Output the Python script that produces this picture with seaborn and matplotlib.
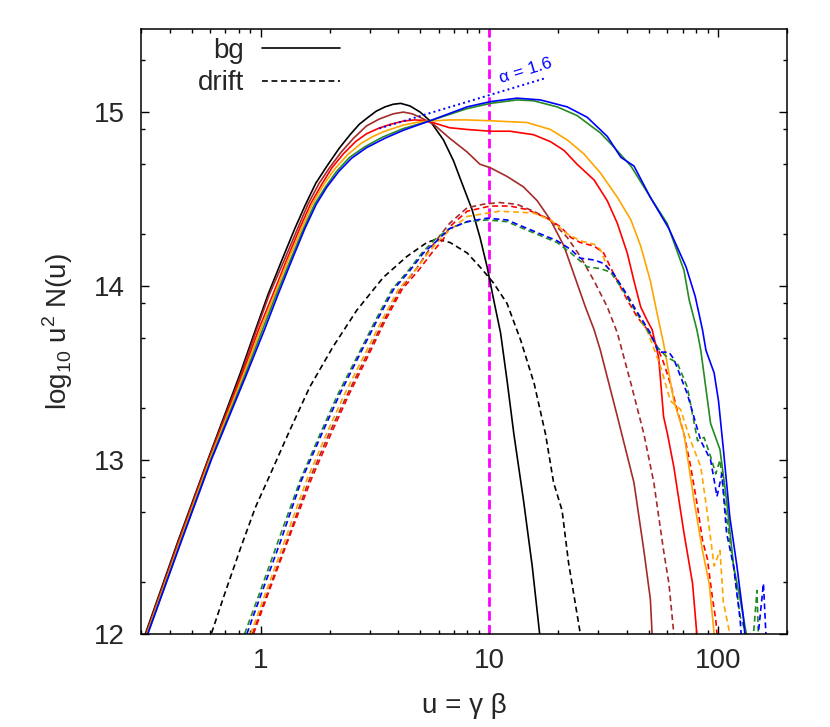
import matplotlib
matplotlib.use("Agg")
import matplotlib.pyplot as plt
from matplotlib.lines import Line2D
from matplotlib.ticker import FixedLocator, LogLocator, NullFormatter
import numpy as np
import pandas as pd
import seaborn as sns

# spectra: (u, log10 u^2 N(u)) pairs, one list per run
BG_BLACK = [(0.30, 11.93), (0.313, 12.0), (0.434, 12.53), (0.587, 13.0), (0.81, 13.49),
            (0.95, 13.75), (1.076, 13.95), (1.23, 14.14), (1.41, 14.33), (1.56, 14.46),
            (1.74, 14.59), (1.95, 14.69), (2.2, 14.79), (2.46, 14.87), (2.7, 14.93),
            (2.95, 14.97), (3.2, 15.005), (3.5, 15.03), (3.8, 15.045), (4.1, 15.05),
            (4.5, 15.035), (4.98, 15.0), (5.5, 14.95), (6.3, 14.84), (6.97, 14.72),
            (7.7, 14.57), (8.4, 14.44), (9.1, 14.28), (9.78, 14.11), (10.45, 13.92),
            (11.2, 13.73), (12.0, 13.44), (12.8, 13.15), (14.1, 12.77), (15.4, 12.39),
            (16.6, 12.0), (17.2, 11.85)]
BG_BROWN = [(0.30, 11.92), (0.315, 12.0), (0.437, 12.53), (0.590, 13.0), (0.82, 13.49),
            (0.96, 13.75), (1.09, 13.95), (1.26, 14.14), (1.45, 14.33), (1.61, 14.47),
            (1.8, 14.59), (2.0, 14.68), (2.25, 14.77), (2.55, 14.85), (2.9, 14.92),
            (3.3, 14.96), (3.8, 14.99), (4.21, 15.0), (4.6, 14.99), (4.98, 14.97),
            (5.7, 14.93), (6.7, 14.85), (8.0, 14.77), (9.1, 14.70), (10.1, 14.68),
            (11.95, 14.63), (14.1, 14.57), (16.2, 14.49), (18.5, 14.38), (21.2, 14.23),
            (23.4, 14.07), (26.3, 13.88), (28.7, 13.75), (30.6, 13.63), (36.3, 13.25),
            (42.9, 12.87), (47.4, 12.48), (50.6, 12.2), (51.5, 12.0), (52.5, 11.9)]
BG_RED = [(0.30, 11.91), (0.317, 12.0), (0.44, 12.53), (0.594, 13.0), (0.83, 13.49),
          (0.98, 13.75), (1.13, 13.95), (1.29, 14.14), (1.48, 14.33), (1.65, 14.47),
          (1.84, 14.58), (2.05, 14.68), (2.3, 14.76), (2.6, 14.83), (2.9, 14.875),
          (3.27, 14.906), (3.7, 14.93), (4.2, 14.948), (4.7, 14.955), (5.2, 14.952),
          (5.5, 14.945), (6.7, 14.91), (8.0, 14.90), (10.1, 14.89), (12.3, 14.89),
          (15.6, 14.87), (18.5, 14.83), (21.2, 14.78), (24.2, 14.70), (28.7, 14.61),
          (32.8, 14.49), (36.3, 14.36), (40.1, 14.19), (42.9, 14.03), (45.9, 13.88),
          (49.1, 13.80), (51.5, 13.75), (55.0, 13.59), (57.8, 13.25), (60.1, 13.15),
          (64.1, 12.96), (71.0, 12.58), (77.4, 12.29), (80.8, 12.0), (82.0, 11.9)]
BG_ORANGE = [(0.30, 11.90), (0.318, 12.0), (0.443, 12.53), (0.598, 13.0), (0.84, 13.49),
             (1.0, 13.75), (1.15, 13.95), (1.31, 14.14), (1.51, 14.33), (1.68, 14.47),
             (1.88, 14.58), (2.1, 14.67), (2.4, 14.755), (2.75, 14.82), (3.1, 14.86),
             (3.44, 14.887), (4.2, 14.925), (5.0, 14.945), (6.7, 14.955), (8.0, 14.955),
             (10.1, 14.95), (14.6, 14.94), (18.5, 14.90), (21.9, 14.84), (25.9, 14.76),
             (30.6, 14.65), (36.3, 14.51), (41.6, 14.38), (45.9, 14.23), (50.6, 14.03),
             (54.2, 13.84), (57.8, 13.67), (64.1, 13.34), (71.0, 13.15), (78.5, 12.77),
             (85.5, 12.48), (91.5, 12.29), (96.2, 12.0), (98.0, 11.9)]
BG_GREEN = [(0.30, 11.89), (0.32, 12.0), (0.447, 12.53), (0.604, 13.0), (0.855, 13.49),
            (1.02, 13.75), (1.17, 13.95), (1.34, 14.14), (1.54, 14.33), (1.72, 14.47),
            (1.92, 14.57), (2.15, 14.66), (2.45, 14.74), (2.85, 14.80), (3.4, 14.855),
            (4.2, 14.905), (5.5, 14.95), (8.0, 15.02), (10.1, 15.05), (13.2, 15.07),
            (15.6, 15.065), (19.8, 15.03), (24.2, 14.98), (30.6, 14.88), (35.0, 14.80),
            (41.6, 14.69), (50.6, 14.51), (59.9, 14.36), (71.0, 14.09), (74.8, 13.92),
            (80.8, 13.75), (84.1, 13.63), (92.8, 13.21), (102, 13.06), (109, 12.77),
            (117, 12.39), (125, 12.2), (133, 12.0), (136, 11.9)]
BG_BLUE = [(0.30, 11.88), (0.321, 12.0), (0.449, 12.53), (0.608, 13.0), (0.866, 13.49),
           (1.04, 13.75), (1.19, 13.95), (1.36, 14.14), (1.56, 14.33), (1.75, 14.47),
           (1.95, 14.57), (2.2, 14.66), (2.5, 14.735), (2.9, 14.795), (3.5, 14.85),
           (4.2, 14.895), (5.5, 14.95), (8.0, 15.03), (10.1, 15.06), (13.2, 15.08),
           (16.7, 15.07), (21.9, 15.03), (26.8, 14.97), (32.8, 14.86), (37.6, 14.74),
           (42.9, 14.69), (50.6, 14.51), (61.0, 14.33), (72.5, 14.11), (79.5, 13.94),
           (85.5, 13.75), (88.6, 13.63), (96.2, 13.50), (100.5, 13.34), (105.6, 13.06),
           (112.7, 12.67), (121, 12.39), (129, 12.1), (131, 12.0), (133, 11.9)]

DRIFT_BLACK = [(0.58, 11.9), (0.608, 12.0), (0.70, 12.24), (0.82, 12.5), (0.95, 12.73),
               (1.095, 12.91), (1.34, 13.17), (1.64, 13.42), (2.07, 13.65), (2.63, 13.86),
               (3.44, 14.05), (4.36, 14.17), (5.33, 14.25), (5.9, 14.27), (6.74, 14.25),
               (8.0, 14.19), (9.1, 14.11), (10.4, 14.02), (11.95, 13.90), (13.0, 13.77),
               (13.7, 13.69), (15.7, 13.44), (17.6, 13.15), (19.1, 12.87), (20.8, 12.71),
               (22.2, 12.41), (25.0, 12.0), (25.5, 11.9)]
DRIFT_BROWN = [(0.89, 11.95), (0.92, 12.0), (1.06, 12.22), (1.30, 12.53), (1.63, 12.885),
               (1.99, 13.15), (2.4, 13.38), (2.93, 13.61), (3.45, 13.80), (4.08, 13.98),
               (4.8, 14.10), (5.4, 14.2), (6.0, 14.28), (6.7, 14.36), (8.0, 14.45),
               (9.4, 14.47), (11.1, 14.48), (13.2, 14.47), (15.6, 14.43), (18.5, 14.38),
               (21.9, 14.28), (25.0, 14.17), (28.7, 14.03), (32.8, 13.88), (36.3, 13.73),
               (41.6, 13.44), (47.4, 13.15), (52.4, 12.87), (57.8, 12.48), (61.0, 12.29),
               (64.1, 12.0), (65.0, 11.9)]
DRIFT_RED = [(0.90, 11.95), (0.93, 12.0), (1.07, 12.22), (1.31, 12.53), (1.66, 12.885),
             (2.03, 13.15), (2.44, 13.38), (2.98, 13.61), (3.5, 13.80), (4.15, 13.98),
             (4.9, 14.09), (5.6, 14.19), (6.3, 14.27), (6.7, 14.34), (8.0, 14.43),
             (10.1, 14.46), (12.3, 14.46), (14.6, 14.44), (17.9, 14.39), (20.5, 14.34),
             (22.7, 14.28), (25.0, 14.25), (28.7, 14.23), (31.6, 14.19), (35.0, 14.07),
             (40.1, 13.92), (44.4, 13.82), (49.1, 13.75), (54.2, 13.65), (57.8, 13.56),
             (61.9, 13.44), (66.2, 13.29), (71.0, 13.15), (76.0, 12.96), (81.4, 12.73),
             (85.5, 12.54), (89.9, 12.43), (94.5, 12.21), (97.8, 12.08), (99.0, 12.0),
             (100.0, 11.9)]
DRIFT_ORANGE = [(0.87, 11.95), (0.904, 12.0), (1.04, 12.22), (1.27, 12.53), (1.59, 12.885),
                (1.94, 13.15), (2.33, 13.38), (2.86, 13.61), (3.38, 13.80), (4.0, 13.98),
                (4.73, 14.09), (5.4, 14.19), (6.1, 14.27), (6.7, 14.32), (8.0, 14.40),
                (11.1, 14.43), (15.6, 14.42), (18.5, 14.38), (21.9, 14.30), (25.0, 14.26),
                (28.7, 14.24), (30.6, 14.21), (32.8, 14.11), (36.3, 14.03), (41.6, 13.92),
                (45.9, 13.80), (49.1, 13.74), (56.0, 13.54), (61.9, 13.34), (68.6, 13.29),
                (76.0, 13.11), (84.1, 12.96), (89.9, 12.69), (96.2, 12.39), (102, 12.48),
                (105.6, 12.18), (112.7, 12.0), (115, 11.9)]
DRIFT_GREEN = [(0.82, 11.95), (0.85, 12.0), (0.98, 12.22), (1.19, 12.53), (1.49, 12.885),
               (1.82, 13.15), (2.18, 13.38), (2.68, 13.61), (3.17, 13.80), (3.75, 13.98),
               (4.43, 14.09), (5.07, 14.19), (5.8, 14.27), (6.7, 14.33), (8.0, 14.37),
               (9.78, 14.38), (11.95, 14.37), (14.1, 14.33), (16.7, 14.29), (19.8, 14.25),
               (22.7, 14.19), (26.8, 14.11), (30.6, 14.10), (33.9, 14.08), (38.7, 13.97),
               (42.9, 13.87), (47.4, 13.78), (54.2, 13.65), (59.9, 13.59), (66.2, 13.56),
               (73.4, 13.42), (81.4, 13.11), (86.9, 13.13), (92.8, 13.02), (97.8, 12.92),
               (102, 13.0), (109, 12.67), (117, 12.39), (125, 12.1), (133, 12.0),
               (136, 11.8), (143, 12.0), (148, 12.25), (151, 11.9)]
DRIFT_BLUE = [(0.84, 11.95), (0.87, 12.0), (1.0, 12.22), (1.22, 12.53), (1.51, 12.885),
              (1.85, 13.15), (2.22, 13.38), (2.72, 13.61), (3.22, 13.80), (3.81, 13.98),
              (4.5, 14.09), (5.15, 14.19), (5.9, 14.26), (6.7, 14.33), (8.0, 14.37),
              (9.78, 14.39), (11.95, 14.38), (14.1, 14.34), (16.7, 14.30), (19.8, 14.26),
              (22.7, 14.21), (25.0, 14.16), (28.7, 14.15), (31.6, 14.13), (35.0, 14.07),
              (38.7, 13.98), (42.9, 13.88), (47.4, 13.79), (50.6, 13.73), (55.0, 13.62),
              (61.0, 13.62), (64.1, 13.58), (73.4, 13.38), (84.1, 13.11), (92.8, 13.0),
              (99, 12.79), (104, 12.92), (109, 12.58), (117, 12.39), (125, 12.08),
              (127, 11.95), (140, 11.7), (150, 12.0), (158, 12.29), (162, 12.0),
              (165, 11.8)]

RUNS = ["black", "brown", "red", "orange", "green", "blue"]
RUN_COLORS = ["black", "#a52a2a", "red", "orange", "forestgreen", "blue"]
BG_CURVES = [BG_BLACK, BG_BROWN, BG_RED, BG_ORANGE, BG_GREEN, BG_BLUE]
DRIFT_CURVES = [DRIFT_BLACK, DRIFT_BROWN, DRIFT_RED, DRIFT_ORANGE, DRIFT_GREEN, DRIFT_BLUE]

# power-law guide (alpha = 1.6) and the u = 10 marker
ALPHA_LINE_U = [3.3, 17.8]
ALPHA_LINE_V = [14.906, 15.197]
U_MARK = 10

X_LIMITS = (0.3, 200)
Y_LIMITS = (12, np.log10(3e15))
Y_TICKS = [12, 13, 14, 15]


def _curves_frame() -> pd.DataFrame:
    rows = []
    for kind, curves in (("bg", BG_CURVES), ("drift", DRIFT_CURVES)):
        for run, curve in zip(RUNS, curves):
            for u, v in curve:
                rows.append({"u": u, "v": v, "run": run, "kind": kind})
    return pd.DataFrame(rows)


sns.set_theme(style="ticks")
plt.rcParams["font.family"] = ["Liberation Sans", "DejaVu Sans"]
plt.rcParams["mathtext.fontset"] = "custom"
plt.rcParams["mathtext.rm"] = "Liberation Sans"

fig = plt.figure(figsize=(8.3, 7.27), dpi=100)
ax = fig.add_axes([0.170, 0.128, 0.778, 0.832])

data = _curves_frame()
sns.lineplot(
    data=data,
    x="u",
    y="v",
    hue="run",
    hue_order=RUNS,
    palette=dict(zip(RUNS, RUN_COLORS)),
    style="kind",
    style_order=["bg", "drift"],
    dashes={"bg": "", "drift": (3.5, 2.2)},
    estimator=None,
    sort=False,
    linewidth=1.2,
    legend=False,
    ax=ax
)

ax.axvline(U_MARK, color="magenta", linewidth=2.0, linestyle=(0, (3.4, 1.6)), zorder=1)
sns.lineplot(x=ALPHA_LINE_U, y=ALPHA_LINE_V, color="blue", linestyle=":",
             linewidth=1.4, ax=ax)
ax.text(14.4, 15.24, "α = 1.6", color="blue", fontsize=12.5,
        rotation=17, ha="center", va="center")

ax.set_xscale("log")
ax.set_xlim(*X_LIMITS)
ax.set_ylim(*Y_LIMITS)
ax.set_xticks([1, 10, 100], labels=["1", "10", "100"])
ax.xaxis.set_minor_locator(LogLocator(base=10, subs=np.arange(2, 10)))
ax.xaxis.set_minor_formatter(NullFormatter())
ax.set_yticks(Y_TICKS, labels=[str(t) for t in Y_TICKS])
minor_y = [n + np.log10(m) for n in range(12, 16) for m in (2, 5, 8)]
ax.yaxis.set_minor_locator(FixedLocator([t for t in minor_y if t < Y_LIMITS[1]]))

ax.tick_params(which="both", direction="in", top=True, right=True, width=1.0,
               labelsize=20, color="black")
ax.tick_params(which="major", length=6)
ax.tick_params(which="minor", length=3)
ax.tick_params(axis="y", pad=12)
ax.tick_params(axis="x", pad=10)
for spine in ax.spines.values():
    spine.set_linewidth(1.1)
    spine.set_color("black")

ax.set_xlabel("u = γ β", fontsize=20, labelpad=14)
ax.set_ylabel(r"log$_{10}$ u$^2$ N(u)", fontsize=20, labelpad=13)

handles = [
    Line2D([], [], color="black", linewidth=1.2),
    Line2D([], [], color="black", linewidth=1.2, dashes=(3.5, 2.2)),
]
ax.legend(handles, ["bg", "drift"], loc="upper right", bbox_to_anchor=(0.308, 0.985),
          frameon=False, markerfirst=False, fontsize=20, handlelength=2.8,
          handletextpad=0.65, labelspacing=0.22, borderpad=0, borderaxespad=0)

fig.savefig("out.png", dpi=100)
